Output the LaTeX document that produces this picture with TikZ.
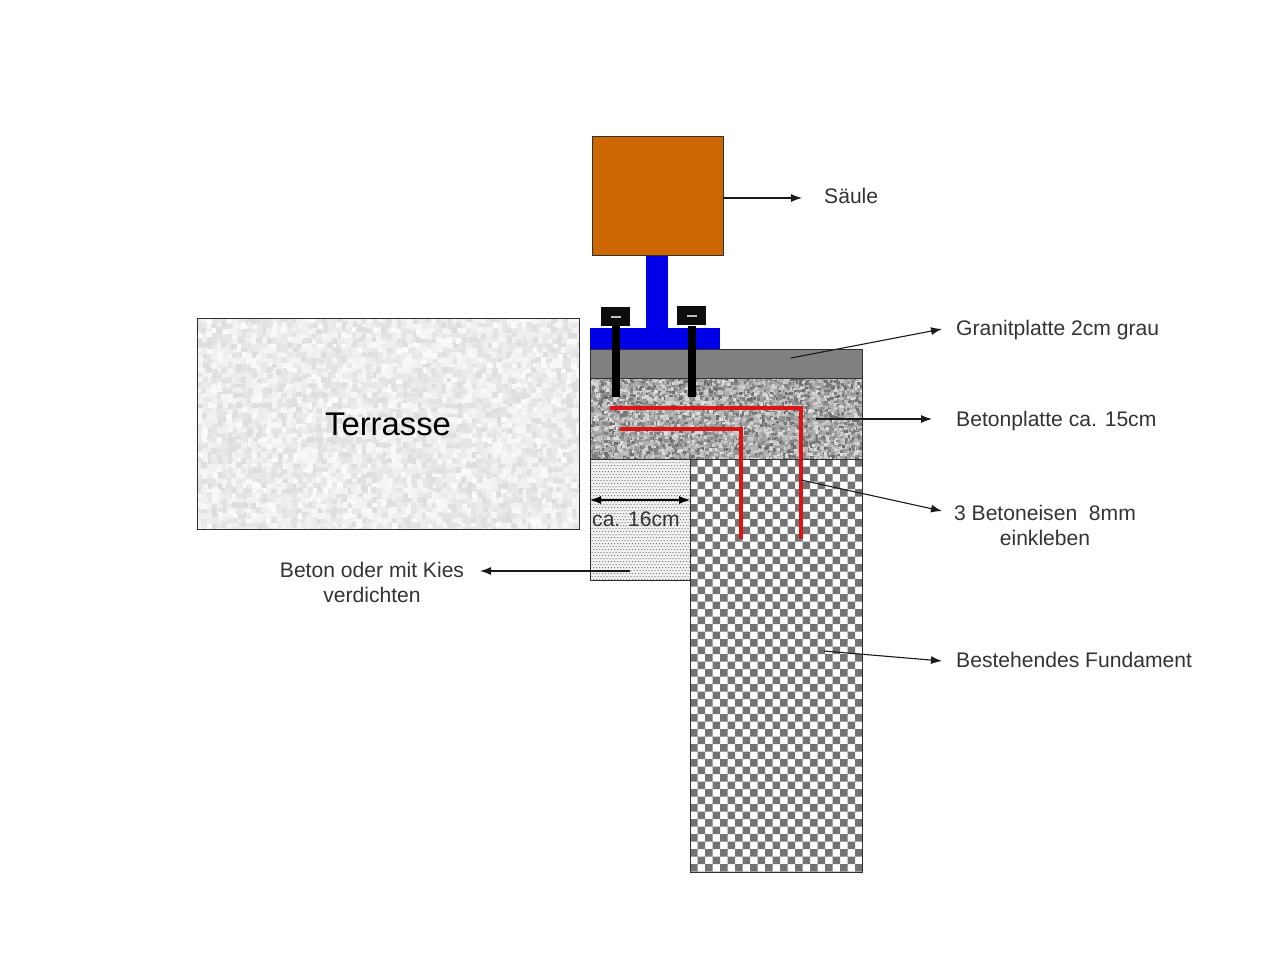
\documentclass[tikz,border=0pt]{standalone}
\usepackage{fontspec}
\setmainfont{Liberation Sans}
\usetikzlibrary{arrows.meta}
\definecolor{saeule}{HTML}{CC6600}
\definecolor{blau}{HTML}{0000E8}
\definecolor{rot}{HTML}{DD1414}
\definecolor{ink}{HTML}{303030}
\newcommand{\speckle}[7]{%
  \begin{scope}
    \clip (#1,#2) rectangle (#3,#4);
    \pgfmathsetmacro{\nx}{#1+#5}\pgfmathsetmacro{\ny}{#2+#5}
    \foreach \xx in {#1,\nx,...,#3}{
      \foreach \yy in {#2,\ny,...,#4}{
        \pgfmathrandominteger{\gr}{#6}{#7}
        \pgfmathrandominteger{\ox}{-1}{1}
        \pgfmathrandominteger{\oy}{-1}{1}
        \fill[black!\gr] (\xx+\ox,\yy+\oy) rectangle ++(#5+1,#5+0.8);
      }
    }
  \end{scope}}
\tikzset{
  outlinebox/.style={draw=ink,line width=1pt},
  leader/.style={draw=black!90,line width=1.1pt,-{Latex[length=11pt,width=8pt]}},
  textlabel/.style={font=\fontsize{21.1}{25}\selectfont,text=black!80,inner sep=0pt,anchor=base west},
  twoline/.style={font=\fontsize{21.1}{25}\selectfont,text=black!80,inner sep=0pt,align=center,anchor=base},
  rebar/.style={draw=rot,line width=4.5pt,line join=miter},
  boltshaft/.style={fill=black},
  bolthead/.style={fill=black!95}
}
\begin{document}
\begin{tikzpicture}[x=1pt,y=-1pt]
\useasboundingbox (0,0) rectangle (1280,960);
\fill[white] (0,0) rectangle (1280,960);
\pgfmathsetseed{4242}
% Terrasse
\fill[black!7] (197,318) rectangle (579,529);
\speckle{197}{318}{579}{529}{5}{2}{13}
\draw[outlinebox] (197,318) rectangle (579,529);
% dotted fill
\fill[black!6] (590,459) rectangle (690,580);
\begin{scope}
\clip (590,459) rectangle (690,580);
\fill[black!50] \foreach \row in {0,...,40}{
  \foreach \col in {0,...,33}{
    ({590+3*\col+1.5*mod(\row,2)},{459+3*\row}) rectangle ++(1.1,1.1)
  }
};
\end{scope}
\draw[outlinebox] (590,459) rectangle (690,580);
% checker fill
\fill[white] (690,459) rectangle (862,872);
\begin{scope}
\clip (690,459) rectangle (862,872);
\fill[black!55] \foreach \row in {0,...,55}{
  \foreach \col in {0,...,11}{
    ({690+7.5*(2*\col+mod(\row,2))},{459+7.5*\row}) rectangle ++(7.5,7.5)
  }
};
\end{scope}
\draw[outlinebox] (690,459) rectangle (862,872);
% Betonplatte
\fill[black!30] (590,378) rectangle (862,459);
\speckle{590}{378}{862}{459}{2.5}{12}{58}
\draw[outlinebox] (590,378) rectangle (862,459);
% Granitplatte
\draw[outlinebox,fill=black!50] (590,349) rectangle (862,378);
% Saeule
\draw[outlinebox,fill=saeule] (592,137) rectangle (723,256);
\fill[blau] (646,256) rectangle (668,328);
\fill[blau] (590,328) rectangle (720,349);
% bolts
\fill[boltshaft] (612,326) rectangle (620,397);
\fill[boltshaft] (688,326) rectangle (696,397);
\fill[bolthead] (601,307) rectangle (630,326);
\fill[bolthead] (677,306) rectangle (706,325);
\fill[black!25] (611,316) rectangle (621,317.5);
\fill[black!25] (687,315) rectangle (697,316.5);
% rebars
\coordinate (r1a) at (610,408); \coordinate (r1b) at (801,408); \coordinate (r1c) at (801,539);
\coordinate (r2a) at (620,429); \coordinate (r2b) at (741,429); \coordinate (r2c) at (741,539);
\draw[rebar] (r1a) -- (r1b) -- (r1c);
\draw[rebar] (r2a) -- (r2b) -- (r2c);
% labels
\node[font=\fontsize{32.8}{36}\selectfont,inner sep=0pt,anchor=base] (terrasse) at (388,435) {Terrasse};
\node[textlabel] (saeulel) at (824,204) {Säule};
\node[textlabel] (granit) at (956,335) {Granitplatte 2cm grau};
\node[textlabel] (beton) at (956,426) {Betonplatte ca. 15cm};
\node[twoline] (eisen) at (1045,545) {3 Betoneisen\ \ 8mm\\einkleben};
\node[textlabel] (fund) at (956,667) {Bestehendes Fundament};
\node[twoline] (kies) at (372,602) {Beton oder mit Kies\\verdichten};
\node[textlabel] (cm) at (592,526) {ca. 16cm};
% connector ends
\coordinate (a1s) at (723,198); \coordinate (a1e) at (802,198);
\coordinate (a2s) at (791,358); \coordinate (a2e) at (942,329);
\coordinate (a3s) at (816,419); \coordinate (a3e) at (932,419);
\coordinate (a4s) at (801,480); \coordinate (a4e) at (942,511);
\coordinate (a5s) at (824,651); \coordinate (a5e) at (942,661);
\coordinate (a6s) at (630,571); \coordinate (a6e) at (480,571);
\coordinate (d1) at (590,500); \coordinate (d2) at (690,500);
\draw[leader] (a1s) -- (a1e);
\draw[leader] (a2s) -- (a2e);
\draw[leader] (a3s) -- (a3e);
\draw[leader] (a4s) -- (a4e);
\draw[leader] (a5s) -- (a5e);
\draw[leader] (a6s) -- (a6e);
\draw[draw=black,line width=1.1pt,{Latex[length=11pt,width=8pt]}-{Latex[length=11pt,width=8pt]}] (d1) -- (d2);
\end{tikzpicture}
\end{document}
